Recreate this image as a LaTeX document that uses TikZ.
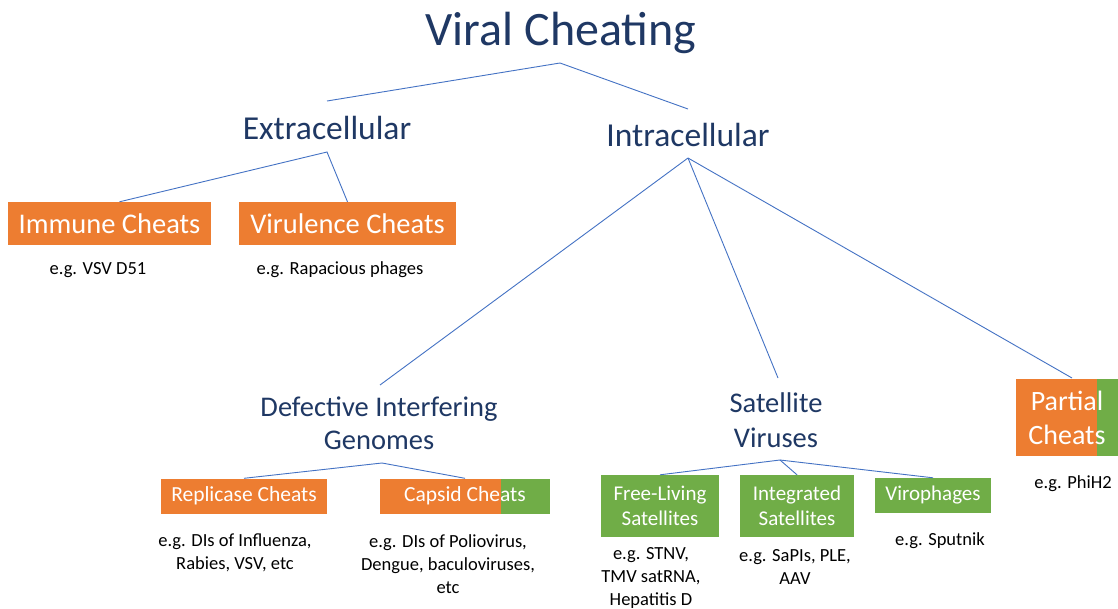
\documentclass[tikz,border=0pt]{standalone}
\usepackage{fontspec}
\setmainfont{Carlito}
\definecolor{cOrange}{RGB}{237,125,49}
\definecolor{cGreen}{RGB}{112,173,71}
\definecolor{cNavy}{RGB}{31,56,100}
\definecolor{cLine}{RGB}{68,114,196}
\tikzset{
  conn/.style={draw=cLine, line width=0.9pt},
  head/.style={text=cNavy, inner sep=0pt, align=center},
  box/.style={fill=cOrange, text=white, inner sep=0pt, align=center},
  gbox/.style={fill=cGreen, text=white, inner sep=0pt, align=center},
  eg/.style={text=black, inner sep=0pt, align=center, font=\fontsize{18.5}{23}\selectfont},
  greentail/.style={path picture={\fill[cGreen] ([xshift=-#1]path picture bounding box.north east) rectangle (path picture bounding box.south east);}}
}
\begin{document}
\begin{tikzpicture}[x=1pt,y=-1pt]
\clip (0,0) rectangle (1118,608);
\fill[white] (0,0) rectangle (1118,608);
% headings
\node[head, font=\fontsize{48}{58}\selectfont] (title) at (561,33) {Viral Cheating};
\node[head, font=\fontsize{33.5}{40}\selectfont] (ext) at (327,128) {Extracellular};
\node[head, font=\fontsize{33.5}{40}\selectfont] (int) at (688,135) {Intracellular};
\node[head, font=\fontsize{28.5}{33}\selectfont] (dig) at (379,423) {Defective Interfering\\Genomes};
\node[head, font=\fontsize{28.5}{35}\selectfont] (sat) at (776,420) {Satellite\\Viruses};
% boxes
\node[box, minimum width=203, minimum height=43, font=\fontsize{28.5}{32}\selectfont] (imm) at (109.5,223.5) {Immune Cheats};
\node[box, minimum width=217, minimum height=43, font=\fontsize{28.5}{32}\selectfont] (vir) at (347.5,223.5) {Virulence Cheats};
\node[box, minimum width=166, minimum height=35, font=\fontsize{21.5}{25}\selectfont] (rep) at (244,496) {Replicase Cheats};
\node[box, greentail=49, minimum width=170, minimum height=35, font=\fontsize{21.5}{25}\selectfont] (cap) at (465,496) {Capsid Cheats};
\node[gbox, minimum width=118, minimum height=62, font=\fontsize{21}{25}\selectfont] (free) at (660,506) {Free-Living\\Satellites};
\node[gbox, minimum width=114, minimum height=62, font=\fontsize{21}{25}\selectfont] (integ) at (797,506) {Integrated\\Satellites};
\node[gbox, minimum width=116, minimum height=35, font=\fontsize{21}{25}\selectfont] (viro) at (933,495.5) {Virophages};
\node[box, greentail=21, minimum width=102, minimum height=77, font=\fontsize{28}{34}\selectfont] (part) at (1067,417.5) {Partial\\Cheats};
% examples
\node[eg] (egimm) at (98,270) {e.g. VSV D51};
\node[eg] (egvir) at (340,270) {e.g. Rapacious phages};
\node[eg] (egrep) at (235,553) {e.g. DIs of Influenza,\\Rabies, VSV, etc};
\node[eg] (egcap) at (448,564) {e.g. DIs of Poliovirus,\\Dengue, baculoviruses,\\etc};
\node[eg] (egfree) at (651,578) {e.g. STNV,\\TMV satRNA,\\Hepatitis D};
\node[eg] (eginteg) at (795,567) {e.g. SaPIs, PLE,\\AAV};
\node[eg] (egviro) at (940,541) {e.g. Sputnik};
\node[eg] (egpart) at (1073,484) {e.g. PhiH2};
% junction points
\coordinate (jTitle) at (560,63);
\coordinate (jExt) at (327,152);
\coordinate (jInt) at (688,158);
\coordinate (jDig) at (382,463);
\coordinate (jSat) at (780,460);
\coordinate (eExt) at (327,101);
\coordinate (eInt) at (688,109);
\coordinate (eDig) at (380,385);
\coordinate (eSat) at (778,378);
\coordinate (ePart) at (1072,378);
% connectors
\draw[conn] (eExt) -- (jTitle) -- (eInt);
\draw[conn] (imm.north) ++(10,0) -- (jExt) -- (vir.north);
\draw[conn] (jInt) -- (eDig);
\draw[conn] (jInt) -- (eSat);
\draw[conn] (jInt) -- (ePart);
\draw[conn] (rep.north) -- (jDig) -- (cap.north);
\draw[conn] (free.north) -- (jSat) -- (integ.north);
\draw[conn] (jSat) -- (viro.north);
\end{tikzpicture}
\end{document}
